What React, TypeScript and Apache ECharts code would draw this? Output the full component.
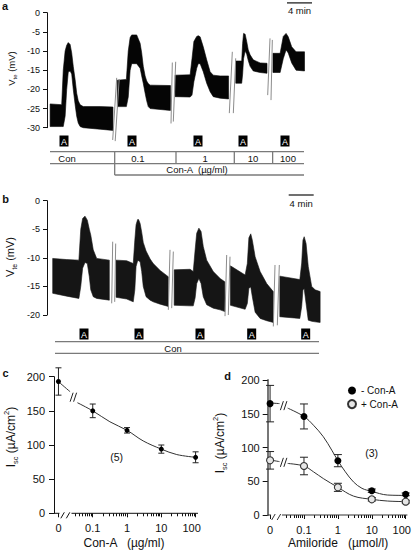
import React, { useEffect, useRef } from "react";
import * as echarts from "echarts";

const FONT = "'Liberation Sans', Arial, Helvetica, sans-serif";

// ---------- Panel a : Vte trace, Con then Con-A doses (time in min, mV) ----------
const aTime = [
  [0.5, 2.35, 2.6, 2.9, 3.15, 3.4, 3.7, 3.95, 4.2, 4.5, 4.75, 5.0, 5.3, 5.8, 8.5, 10.55],
  [11.25, 12.7, 13.0, 13.3, 13.55, 14.35, 14.9, 15.15, 15.4, 15.7, 15.95, 16.2, 16.5, 19.75],
  [20.5, 22.9, 23.2, 23.5, 23.95, 24.2, 24.5, 25.0, 25.55, 26.1, 26.6, 27.7, 29.05],
  [30.2, 31.15, 31.3, 31.45, 31.7, 31.95, 32.2, 32.5, 33.0, 34.1, 35.2],
  [36.15, 37.3, 37.8, 38.25, 38.6, 39.15, 39.85, 41.2],
];
const aUpper = [
  [-23.8, -24, -15, -10, -8.5, -7.8, -8.3, -10.5, -14, -17.5, -21, -23, -24, -24.5, -24.5, -24.6],
  [-17.6, -17.4, -10, -6.5, -5.8, -5.8, -8, -10.5, -14, -16.5, -17.8, -18.5, -18.9, -19],
  [-16.3, -16.2, -12, -7.5, -6.2, -6.0, -6.3, -8.9, -12.3, -15.4, -16.3, -16.5, -16.5],
  [-12.6, -12.6, -8, -5.4, -5.6, -7.5, -9.7, -11, -12.3, -13.1, -13.2],
  [-10.6, -10.6, -6.2, -5.4, -6.3, -8.9, -10.2, -10.2],
];
const aLower = [
  [-29.7, -29.7, -29.7, -27, -20, -15.5, -15.2, -16, -20, -24, -27, -28.8, -29.7, -30, -30.4, -30.7],
  [-24.5, -24.5, -22, -15, -13.3, -13.3, -14.5, -16.5, -18.4, -21, -23, -24.5, -25, -25.5],
  [-21.9, -22, -21.5, -18, -14.5, -13.3, -13.3, -15.4, -18.4, -20.6, -21.9, -22.3, -22.5],
  [-18.4, -18.4, -16, -12, -10, -10.8, -12.5, -14, -15.2, -15.6, -15.8],
  [-15.6, -15.6, -12, -9.7, -10.5, -13.1, -15, -15.2],
];
const aBreaks = [
  [10.51, -33.2, 11.15, -17.0], [10.91, -33.5, 11.55, -17.3],
  [19.84, -28.9, 20.05, -13.0], [20.21, -28.4, 20.59, -12.8],
  [29.17, -26.2, 29.65, -10.2], [29.81, -26.2, 30.19, -11.9],
  [35.31, -21.5, 35.68, -6.7], [35.84, -22.8, 36.05, -7.1],
];
const aStimTimes = [2.72, 13.6, 24.16, 31.36, 38.08];
const aProtocolBounds = [0.48, 10.83, 20.64, 29.97, 36.1, 41.12];
const aProtocolLabels = ["Con", "0.1", "1", "10", "100"];
const aProtocolLabelTimes = [3.2, 14.55, 25.3, 32.96, 38.56];
const aConATitle = "Con-A  (µg/ml)";
const aConATitleTime = 24;
const aScaleStart = 38.4;

// ---------- Panel b : Vte trace, repeated amiloride under Con ----------
const bTime = [
  [0.91, 3.15, 5.1, 5.4, 5.7, 6.08, 6.45, 6.77, 7.0, 7.4, 7.95, 9.97],
  [11.05, 12.75, 13.8, 14.05, 14.25, 14.5, 14.65, 14.9, 15.15, 15.4, 15.85, 16.5, 17.0, 18.1, 19.4],
  [20.35, 22.9, 23.4, 23.7, 23.95, 24.3, 24.65, 25.0, 25.55, 26.6, 27.7, 28.45],
  [29.35, 31.7, 32.05, 32.3, 32.6, 32.85, 33.3, 34.1, 35.15, 36.2],
  [37.25, 40.45, 40.75, 40.95, 41.15, 41.45, 41.8, 42.35, 42.9, 43.7],
];
const bUpper = [
  [-10.1, -10.3, -10.4, -5, -3.1, -2.7, -3.4, -5, -6, -8.6, -10.1, -10.4],
  [-10.4, -10.5, -11.0, -6.9, -4.2, -3.3, -3.3, -4.0, -5.5, -7.3, -8.8, -10.2, -11.0, -12.2, -13.3],
  [-12.1, -12.0, -12.4, -8.6, -5.7, -4.8, -5.4, -8.0, -10.4, -12.4, -13.6, -14.2],
  [-11.4, -13.0, -11, -6.5, -5.8, -6.9, -9.8, -12.4, -14.5, -15.9],
  [-13.2, -13.8, -10.9, -6.9, -6.3, -7.5, -11.5, -15.0, -15.6, -15.9],
];
const bLower = [
  [-16.2, -16.7, -17.1, -15, -11.8, -10.8, -11, -13.3, -15.6, -16.8, -17.1, -17.4],
  [-16.9, -17.2, -17.7, -15.6, -11.5, -10.5, -10.5, -10.7, -12.4, -15, -16.8, -17.4, -17.7, -18.1, -18.5],
  [-18.3, -18.4, -18.4, -17, -14.5, -13.6, -14.5, -16.8, -18.2, -18.8, -19.1, -19.4],
  [-18.3, -19.0, -18.0, -15.3, -15.1, -16.8, -19.5, -20.6, -21.0, -21.3],
  [-20.3, -20.6, -18.5, -15.6, -15.4, -18, -20.9, -21.1, -21.2, -21.3],
];
const bBreaks = [
  [10.35, -17.96, 10.51, -7.17], [10.83, -17.7, 10.99, -7.5],
  [19.41, -19.1, 19.68, -8.6], [19.95, -18.8, 20.21, -8.9],
  [28.48, -20.2, 28.75, -9.5], [29.01, -20.0, 29.28, -9.8],
  [36.21, -22.0, 36.48, -11.25], [36.85, -21.8, 37.17, -11.25],
];
const bStimTimes = [5.92, 14.72, 24.48, 32.75, 41.39];
const bConExtent = [1.28, 43.52];
const bConLabel = "Con";
const bConLabelTime = 20.16;
const bScaleStart = 38.67;
const scaleBarMinutes = 4;
const scaleBarLabel = "4 min";

// ---------- Panels c, d : Isc dose–response ----------
const concLabels = ["0", "0.1", "1", "10", "100"];
const concPos = [-2, -1, 0, 1, 2]; // log10 position; "0" drawn left of the axis break
const cMean = [193, 150, 121.5, 94, 82];
const cSem = [20, 10, 4, 6, 8];
const cFitX1 = [-2, -1.66];
const cFitY1 = [192.7, 178];
const cFitX2 = [-1.45, -1, -0.5, 0, 0.47, 1, 1.45, 2];
const cFitY2 = [162, 150, 134, 121.5, 106, 94, 86, 82];

const dMinusMean = [165, 146, 80.5, 36, 30.6];
const dMinusSem = [27, 18.5, 9, 2.5, 2];
const dPlusMean = [81, 72.6, 41, 23.2, 19.8];
const dPlusSem = [13, 13, 6, 2.5, 2];
const dMinusFitX1 = [-2, -1.71];
const dMinusFitY1 = [166, 165];
const dMinusFitX2 = [-1.51, -1, -0.72, -0.43, -0.18, 0, 0.22, 0.46, 0.71, 1, 1.46, 2];
const dMinusFitY2 = [159, 146, 133, 116, 96, 80.5, 64, 49, 39.5, 35, 29.6, 29];
const dPlusFitX1 = [-2, -1.71];
const dPlusFitY1 = [81.5, 79];
const dPlusFitX2 = [-1.51, -1, -0.72, -0.43, 0, 0.46, 1, 1.46, 2];
const dPlusFitY2 = [76.5, 72.6, 64, 54, 41, 28, 23.2, 20.7, 19.8];

const minorLogTicks = (from: number) => {
  const out: number[] = [];
  for (let k = -2; k <= 1; k++)
    for (let m = 2; m <= 9; m++) {
      const v = Math.log10(m * Math.pow(10, k));
      if (v > from) out.push(v);
    }
  return out;
};

const zip = (xs: number[], ys: number[]) => xs.map((x, i) => [x, ys[i]]);

const traceSeries = (idx: number, times: number[][], hi: number[][], lo: number[][], color: string) => ({
  type: "custom",
  xAxisIndex: idx,
  yAxisIndex: idx,
  silent: true,
  clip: false,
  data: times.map((t, i) => [t[0], hi[i][0], i]),
  renderItem: (_p: any, api: any) => {
    const i = api.value(2);
    const pts: number[][] = [];
    times[i].forEach((t, k) => pts.push(api.coord([t, hi[i][k]])));
    for (let k = times[i].length - 1; k >= 0; k--) pts.push(api.coord([times[i][k], lo[i][k]]));
    return { type: "polygon", shape: { points: pts }, style: { fill: color, stroke: color, lineWidth: 0.6 } };
  },
});

const breakSeries = (idx: number, breaks: number[][]) => ({
  type: "custom",
  xAxisIndex: idx,
  yAxisIndex: idx,
  silent: true,
  clip: false,
  z: 5,
  data: breaks,
  renderItem: (_p: any, api: any) => {
    const a = api.coord([api.value(0), api.value(1)]);
    const b = api.coord([api.value(2), api.value(3)]);
    return { type: "line", shape: { x1: a[0], y1: a[1], x2: b[0], y2: b[1] }, style: { stroke: "#8c8c8c", lineWidth: 1 } };
  },
});

const txt = (x: number, y: number, text: string, size: number, extra: any = {}) => ({
  type: "text",
  x,
  y,
  style: { text, fontSize: size, fontFamily: FONT, fill: "#111", align: "center", verticalAlign: "middle", ...extra },
});

const stimBoxes = (api: any, times: number[], yMin: number, cy: number) =>
  times.flatMap((t) => {
    const x = api.coord([t, yMin])[0];
    return [
      { type: "rect", shape: { x: x - 4.5, y: cy - 5.5, width: 9, height: 11 }, style: { fill: "#000" } },
      txt(x, cy + 0.5, "A", 9, { fill: "#fff" }),
    ];
  });

const scaleBar = (api: any, start: number, barY: number, textY: number) => {
  const x1 = api.coord([start, 0])[0];
  const x2 = api.coord([start + scaleBarMinutes, 0])[0];
  return [
    { type: "line", shape: { x1, y1: barY, x2, y2: barY }, style: { stroke: "#111", lineWidth: 1.2 } },
    txt((x1 + x2) / 2, textY, scaleBarLabel, 9.5),
  ];
};

const annotA = {
  type: "custom",
  xAxisIndex: 0,
  yAxisIndex: 0,
  silent: true,
  clip: false,
  data: [[0, 0]],
  renderItem: (_p: any, api: any) => {
    const base = api.coord([0, -30])[1];
    const top = api.coord([0, 0])[1];
    const X = (t: number) => api.coord([t, -30])[0];
    const line = (x1: number, y1: number, x2: number, y2: number) => ({
      type: "line",
      shape: { x1, y1, x2, y2 },
      style: { stroke: "#7a7a7a", lineWidth: 1.3 },
    });
    const r1 = base + 24, r2 = base + 36, r3 = base + 47.3;
    const first = aProtocolBounds[0], last = aProtocolBounds[aProtocolBounds.length - 1];
    const children: any[] = [
      ...stimBoxes(api, aStimTimes, -30, base + 13.3),
      line(X(first), r1, X(last), r1),
      line(X(first), r2, X(last), r2),
      line(X(aProtocolBounds[1]), r3, X(last), r3),
      line(X(aProtocolBounds[1]), r1, X(aProtocolBounds[1]), r3),
      ...aProtocolBounds.slice(2, -1).map((b) => line(X(b), r1, X(b), r2)),
      ...aProtocolLabels.map((l, i) => txt(X(aProtocolLabelTimes[i]), r1 + 6.3, l, 9.5)),
      txt(X(aConATitleTime), r2 + 6, aConATitle, 9.5),
      ...scaleBar(api, aScaleStart, top - 9.8, top - 2.2),
    ];
    return { type: "group", children };
  },
};

const annotB = {
  type: "custom",
  xAxisIndex: 1,
  yAxisIndex: 1,
  silent: true,
  clip: false,
  data: [[0, 0]],
  renderItem: (_p: any, api: any) => {
    const base = api.coord([0, -20])[1];
    const top = api.coord([0, 0])[1];
    const X = (t: number) => api.coord([t, -20])[0];
    const line = (x1: number, y1: number, x2: number, y2: number) => ({
      type: "line",
      shape: { x1, y1, x2, y2 },
      style: { stroke: "#7a7a7a", lineWidth: 1.3 },
    });
    const children: any[] = [
      ...stimBoxes(api, bStimTimes, -20, base + 19),
      line(X(bConExtent[0]), base + 26.7, X(bConExtent[1]), base + 26.7),
      line(X(bConExtent[0]), base + 38.3, X(bConExtent[1]), base + 38.3),
      txt(X(bConLabelTime), base + 33, bConLabel, 9.5),
      ...scaleBar(api, bScaleStart, top - 5.7, top + 2.6),
    ];
    return { type: "group", children };
  },
};

const errorBars = (xi: number, yi: number, means: number[], sems: number[], cap: number) => ({
  type: "custom",
  xAxisIndex: xi,
  yAxisIndex: yi,
  silent: true,
  z: 3,
  data: concPos.map((p, i) => [p, means[i], sems[i]]),
  renderItem: (_p: any, api: any) => {
    const x = api.value(0), m = api.value(1), e = api.value(2);
    const t = api.coord([x, m + e]);
    const b = api.coord([x, m - e]);
    const st = { stroke: "#222", lineWidth: 1 };
    return {
      type: "group",
      children: [
        { type: "line", shape: { x1: t[0], y1: t[1], x2: b[0], y2: b[1] }, style: st },
        { type: "line", shape: { x1: t[0] - cap / 2, y1: t[1], x2: t[0] + cap / 2, y2: t[1] }, style: st },
        { type: "line", shape: { x1: b[0] - cap / 2, y1: b[1], x2: b[0] + cap / 2, y2: b[1] }, style: st },
      ],
    };
  },
});

const slashPair = (cx: number, cy: number, color: string, w: number, h: number, gap: number, lw: number) =>
  [-gap / 2, gap / 2].map((dx) => ({
    type: "line",
    shape: { x1: cx + dx - w / 2, y1: cy + h / 2, x2: cx + dx + w / 2, y2: cy - h / 2 },
    style: { stroke: color, lineWidth: lw },
  }));

const logAxisDecor = (
  xi: number,
  yi: number,
  xmin: number,
  xmax: number,
  stubEnd: number,
  lineStart: number,
  axisBreak: number,
  curveBreaks: number[][],
  axisColor: string
) => ({
  type: "custom",
  xAxisIndex: xi,
  yAxisIndex: yi,
  silent: true,
  clip: false,
  z: 6,
  data: [[0, 0]],
  renderItem: (_p: any, api: any) => {
    const a = api.coord([xmin, 0]);
    const b = api.coord([stubEnd, 0]);
    const c = api.coord([lineStart, 0]);
    const d = api.coord([xmax, 0]);
    const ab = api.coord([axisBreak, 0]);
    const st = { stroke: axisColor, lineWidth: 1 };
    const children: any[] = [
      { type: "line", shape: { x1: a[0], y1: a[1], x2: b[0], y2: b[1] }, style: st },
      { type: "line", shape: { x1: c[0], y1: c[1], x2: d[0], y2: d[1] }, style: st },
      ...slashPair(ab[0], ab[1] + 2, axisColor, 3.5, 6, 5.5, 1),
    ];
    curveBreaks.forEach((cb) => {
      const p = api.coord(cb);
      children.push({ type: "rect", shape: { x: p[0] - 4, y: p[1] - 5, width: 8, height: 10 }, style: { fill: "#fff" } });
      children.push(...slashPair(p[0], p[1], "#222", 3, 9, 3.5, 1));
    });
    return { type: "group", children };
  },
});

const fitLine = (xi: number, yi: number, xs: number[], ys: number[]) => ({
  type: "line",
  xAxisIndex: xi,
  yAxisIndex: yi,
  data: zip(xs, ys),
  smooth: 0.35,
  symbol: "none",
  silent: true,
  z: 2,
  lineStyle: { color: "#333", width: 1 },
});

const traceYAxis = (grid: number, min: number) => ({
  type: "value",
  gridIndex: grid,
  min,
  max: 0,
  interval: 5,
  axisLine: { show: true, onZero: false, lineStyle: { color: "#111", width: 1 } },
  axisTick: { show: true, length: 4, lineStyle: { color: "#111" } },
  axisLabel: { fontSize: 9, fontFamily: FONT, color: "#111", margin: 7 },
  splitLine: { show: false },
});

const isc = (grid: number, color: string, width: number, tickLen: number, margin: number) => ({
  type: "value",
  gridIndex: grid,
  min: 0,
  max: 200,
  interval: 50,
  axisLine: { show: true, onZero: false, lineStyle: { color, width } },
  axisTick: { show: true, length: tickLen, lineStyle: { color: "#111" } },
  axisLabel: { fontSize: 11, fontFamily: FONT, color: "#111", margin },
  splitLine: { show: false },
});

const logX = (grid: number, min: number, max: number) => [
  {
    type: "value",
    gridIndex: grid,
    position: "bottom",
    min,
    max,
    axisLine: { show: false, onZero: false },
    axisTick: { show: true, length: 4, customValues: concPos, lineStyle: { color: "#111" } },
    axisLabel: {
      show: true,
      customValues: concPos,
      formatter: (v: number) => {
        const l = concLabels[concPos.indexOf(Math.round(v))] ?? "";
        return l === "100" ? "{r|" + l + "}" : l;
      },
      rich: { r: { fontSize: 11, fontFamily: FONT, color: "#111", padding: [0, 8, 0, 0] } },
      fontSize: 11,
      fontFamily: FONT,
      color: "#111",
      margin: 9,
    },
    splitLine: { show: false },
  },
  {
    type: "value",
    gridIndex: grid,
    position: "bottom",
    min,
    max,
    axisLine: { show: false, onZero: false },
    axisTick: { show: true, length: 3, customValues: minorLogTicks(-1.62), lineStyle: { color: "#111" } },
    axisLabel: { show: false },
    splitLine: { show: false },
  },
];

const richTitle = (size: number) => ({
  m: { fontSize: size, fontFamily: FONT, fill: "#111", lineHeight: size + 4 },
  sub: { fontSize: size * 0.62, fontFamily: FONT, fill: "#111", lineHeight: size * 0.62, verticalAlign: "bottom" },
  sup: { fontSize: size * 0.62, fontFamily: FONT, fill: "#111", lineHeight: size * 0.62, verticalAlign: "top" },
});

const rotTitle = (x: number, y: number, text: string, size: number) => ({
  type: "text",
  x,
  y,
  rotation: Math.PI / 2,
  style: { text, rich: richTitle(size), align: "center", verticalAlign: "middle", fill: "#111" },
});

export default function App() {
  const ref = useRef<HTMLDivElement>(null);
  useEffect(() => {
    if (!ref.current) return;
    const chart = echarts.init(ref.current, undefined, { renderer: "svg" });
    const option: any = {
      animation: false,
      backgroundColor: "#fff",
      grid: [
        { left: 47, top: 12.7, width: 275, height: 115, outerBoundsMode: "none" },
        { left: 47, top: 200.7, width: 275, height: 114.3, outerBoundsMode: "none" },
        { left: 54, top: 376.7, width: 144, height: 136.6, outerBoundsMode: "none" },
        { left: 267.7, top: 380, width: 139.7, height: 135, outerBoundsMode: "none" },
      ],
      xAxis: [
        { type: "value", gridIndex: 0, min: 0, max: 44, show: false },
        { type: "value", gridIndex: 1, min: 0, max: 44, show: false },
        ...logX(2, -2.13, 2.07),
        ...logX(3, -2.07, 2.05),
      ],
      yAxis: [
        traceYAxis(0, -30),
        traceYAxis(1, -20),
        isc(2, "#111", 1, 5, 9),
        isc(3, "#777", 2, 5, 8),
      ],
      legend: {
        data: [
          { name: "- Con-A", icon: "circle" },
          { name: "+ Con-A", icon: "circle" },
        ],
        orient: "vertical",
        left: 347,
        top: 385.5,
        padding: 0,
        itemWidth: 8,
        itemHeight: 8,
        itemGap: 3.6,
        selectedMode: false,
        textStyle: { fontSize: 10, fontFamily: FONT, color: "#111" },
      },
      series: [
        traceSeries(0, aTime, aUpper, aLower, "#050505"),
        breakSeries(0, aBreaks),
        annotA,
        traceSeries(1, bTime, bUpper, bLower, "#151515"),
        breakSeries(1, bBreaks),
        annotB,
        // panel c
        fitLine(2, 2, cFitX1, cFitY1),
        fitLine(2, 2, cFitX2, cFitY2),
        errorBars(2, 2, cMean, cSem, 6),
        {
          type: "scatter",
          name: "Con-A",
          xAxisIndex: 2,
          yAxisIndex: 2,
          data: zip(concPos, cMean),
          symbol: "circle",
          symbolSize: 5,
          z: 4,
          itemStyle: { color: "#000", opacity: 1 },
        },
        logAxisDecor(2, 2, -2.13, 2.07, -1.97, -1.62, -1.8, [[-1.565, 170]], "#111"),
        // panel d
        fitLine(4, 3, dMinusFitX1, dMinusFitY1),
        fitLine(4, 3, dMinusFitX2, dMinusFitY2),
        fitLine(4, 3, dPlusFitX1, dPlusFitY1),
        fitLine(4, 3, dPlusFitX2, dPlusFitY2),
        errorBars(4, 3, dMinusMean, dMinusSem, 8),
        errorBars(4, 3, dPlusMean, dPlusSem, 8),
        {
          type: "scatter",
          name: "- Con-A",
          xAxisIndex: 4,
          yAxisIndex: 3,
          data: zip(concPos, dMinusMean),
          symbol: "circle",
          symbolSize: 7,
          z: 4,
          itemStyle: { color: "#000", opacity: 1 },
        },
        {
          type: "scatter",
          name: "+ Con-A",
          xAxisIndex: 4,
          yAxisIndex: 3,
          data: zip(concPos, dPlusMean),
          symbol: "circle",
          symbolSize: 7,
          z: 4,
          itemStyle: { color: "#e6e6e6", borderColor: "#333", borderWidth: 1.1, opacity: 1 },
        },
        logAxisDecor(4, 3, -2.07, 2.05, -1.97, -1.65, -1.82, [[-1.6, 162], [-1.6, 78]], "#333"),
      ],
      graphic: [
        txt(5, 6, "a", 11, { fontWeight: "bold" }),
        txt(5.5, 198.5, "b", 11, { fontWeight: "bold" }),
        txt(5.5, 372.5, "c", 11, { fontWeight: "bold" }),
        txt(227.5, 375.5, "d", 11, { fontWeight: "bold" }),
        rotTitle(11, 68.5, "{m|V}{sub|te}{m| (mV)}", 9.5),
        rotTitle(10, 257, "{m|V}{sub|te}{m| (mV)}", 11),
        rotTitle(10.5, 437, "{m|I}{sub|sc}{m| (µA/cm}{sup|2}{m|)}", 12),
        rotTitle(220, 443, "{m|I}{sub|sc}{m| (µA/cm}{sup|2}{m|)}", 12),
        txt(124, 543, "Con-A   (µg/ml)", 12),
        txt(338, 543, "Amiloride   (µmol/l)", 12),
        txt(116.7, 457.3, "(5)", 10.5),
        txt(371.7, 453.3, "(3)", 10.5),
      ],
    };
    chart.setOption(option);
    return () => chart.dispose();
  }, []);
  return (
    <div
      ref={ref}
      style={{ position: "absolute", left: 0, top: 0, width: 413, height: 555, background: "#fff" }}
    />
  );
}
